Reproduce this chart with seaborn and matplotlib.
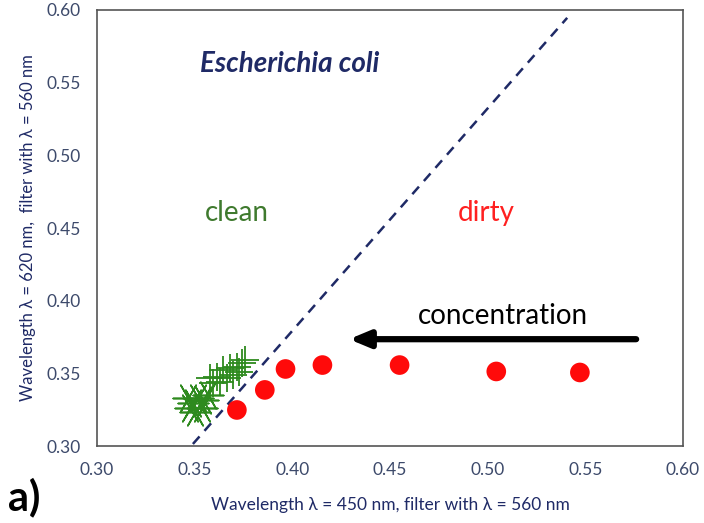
import numpy as np
import pandas as pd
import matplotlib
matplotlib.use("Agg")
import matplotlib.pyplot as plt
import seaborn as sns

# red points (dirty samples)
dirty_x = [0.3716, 0.3859, 0.3965, 0.4154, 0.4549, 0.5044, 0.5472]
dirty_y = [0.3248, 0.3386, 0.3530, 0.3557, 0.3557, 0.3513, 0.3506]

# green crosses (clean samples), lower cluster and upper cluster
clean_low_x = [0.3465, 0.3491, 0.3516, 0.3542, 0.3567, 0.3501, 0.3475, 0.3537]
clean_low_y = [0.3330, 0.3296, 0.3330, 0.3317, 0.3351, 0.3234, 0.3262, 0.3262]
clean_up_x = [0.3578, 0.3613, 0.3644, 0.3680, 0.3715, 0.3741, 0.3756, 0.3664,
              0.3695, 0.3593, 0.3630, 0.3725]
clean_up_y = [0.3468, 0.3475, 0.3523, 0.3537, 0.3544, 0.3571, 0.3592, 0.3468,
              0.3489, 0.3434, 0.3440, 0.3510]

# separation line
sep_x = [0.3491, 0.5407]
sep_y = [0.3014, 0.5946]

# concentration arrow
arrow_start = (0.576, 0.3735)
arrow_end = (0.429, 0.3735)

ticks = [0.30, 0.35, 0.40, 0.45, 0.50, 0.55, 0.60]

sns.set_style("white")
plt.rcParams['font.family'] = ['Lato', 'DejaVu Sans']

navy = "#1f2a66"
tickc = "#3d4a6b"
green = "#2e8a1e"

fig = plt.figure(figsize=(7.04, 5.23), dpi=100)
ax = fig.add_axes([0.1378, 0.1472, 0.8324, 0.8337])

df_dirty = pd.DataFrame({"x": dirty_x, "y": dirty_y})
df_low = pd.DataFrame({"x": clean_low_x, "y": clean_low_y})
df_up = pd.DataFrame({"x": clean_up_x, "y": clean_up_y})

sns.scatterplot(data=df_low, x="x", y="y", marker=(6, 2, 90), s=480,
                color=green, linewidth=1.2, ax=ax, zorder=3)
sns.scatterplot(data=df_up, x="x", y="y", marker="+", s=380,
                color=green, linewidth=1.3, ax=ax, zorder=3)
sns.scatterplot(data=df_dirty, x="x", y="y", s=200, color="#ff0a0a",
                edgecolor="none", ax=ax, zorder=3)
ax.plot(sep_x, sep_y, ls=(0, (4, 3)), color=navy, lw=1.8, zorder=2)

ax.annotate("", xy=arrow_end, xytext=arrow_start,
            arrowprops=dict(arrowstyle="-|>,head_length=1.2,head_width=0.5",
                            color="black", lw=4.5, shrinkA=0, shrinkB=0))

ax.text(0.3986, 0.5629, "Escherichia coli", fontsize=20, fontweight="bold",
        fontstyle="italic", color=navy, ha="center", va="center")
ax.text(0.3716, 0.4604, "clean", fontsize=20, color="#3f7a2e",
        ha="center", va="center")
ax.text(0.4993, 0.4604, "dirty", fontsize=20, color="#ff2020",
        ha="center", va="center")
ax.text(0.508, 0.3895, "concentration", fontsize=20, color="black",
        ha="center", va="center")

ax.set_xlim(0.30, 0.60)
ax.set_ylim(0.30, 0.60)
ax.set_xticks(ticks)
ax.set_yticks(ticks)
ax.set_xticklabels([f"{t:.2f}" for t in ticks])
ax.set_yticklabels([f"{t:.2f}" for t in ticks])
ax.tick_params(direction="inout", length=7, width=1, colors="#555555",
               labelcolor=tickc, labelsize=12.5, pad=8)
for sp in ax.spines.values():
    sp.set_color("#555555")
    sp.set_linewidth(1.2)

ax.set_xlabel("Wavelength λ = 450 nm, filter with λ = 560 nm",
              fontsize=12.5, color=navy, labelpad=14)
ax.set_ylabel("Wavelength λ = 620 nm,  filter with λ = 560 nm",
              fontsize=12, color=navy, labelpad=8)

fig.text(0.012, 0.025, "a)", fontsize=30, fontweight="bold", color="black")

fig.savefig("out.png", dpi=100)
